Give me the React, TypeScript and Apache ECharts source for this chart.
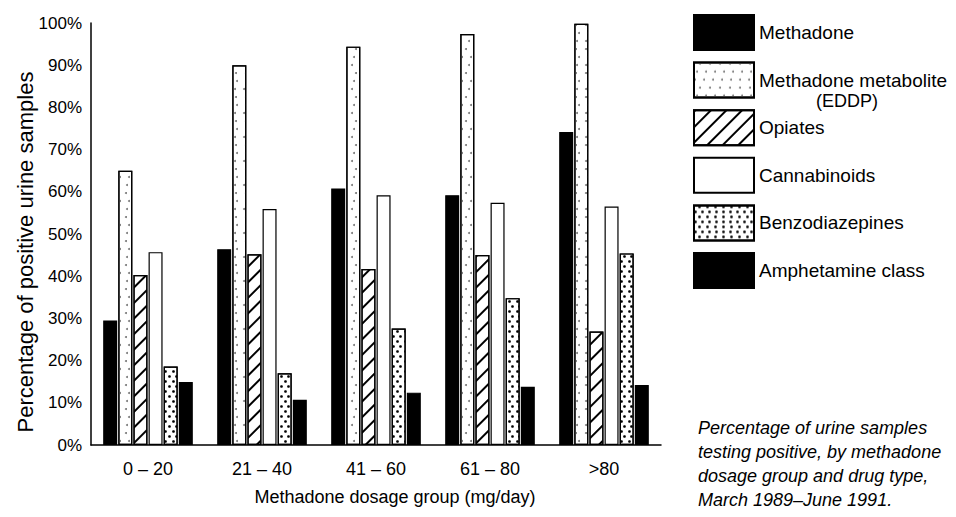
import React, { useEffect, useRef } from 'react';
import * as echarts from 'echarts';

const categories = ['0 – 20', '21 – 40', '41 – 60', '61 – 80', '>80'];
const seriesNames = ['Methadone', 'Methadone metabolite', 'Opiates', 'Cannabinoids', 'Benzodiazepines', 'Amphetamine class'];
const methadone = [29.5, 46.4, 60.8, 59.2, 74.2];
const eddp = [65.0, 90.0, 94.4, 97.4, 99.8];
const opiates = [40.3, 45.2, 41.7, 45.0, 26.9];
const cannabinoids = [45.7, 55.9, 59.2, 57.4, 56.5];
const benzodiazepines = [18.6, 17.0, 27.6, 34.8, 45.4];
const amphetamine = [14.9, 10.7, 12.4, 13.8, 14.2];
const captionLines = [
  'Percentage of urine samples',
  'testing positive, by methadone',
  'dosage group and drug type,',
  'March 1989–June 1991.',
];

const FONT = '"Liberation Sans", Arial, Helvetica, sans-serif';

export default function App() {
  const ref = useRef<HTMLDivElement>(null);
  useEffect(() => {
    document.body.style.margin = '0';
    const chart = echarts.init(ref.current!, null, { renderer: 'svg' });
    const border = { borderColor: '#000', borderWidth: 1.2 };
    const styles: any[] = [
      { color: '#000', ...border },
      {
        color: '#fff', ...border,
        decal: { symbol: 'circle', symbolSize: 1, color: '#777', backgroundColor: '#fff', dashArrayX: [[1.5, 7], [0, 4.5, 1.5, 2.5], [0, 2, 1.5, 5]], dashArrayY: [1.5, 6] },
      },
      {
        color: '#fff', ...border,
        decal: { symbol: 'rect', symbolSize: 1, color: '#000', backgroundColor: '#fff', dashArrayX: [1, 0], dashArrayY: [1.4, 8.5], rotation: -Math.PI / 4 },
      },
      { color: '#fff', ...border },
      {
        color: '#fff', ...border,
        decal: { symbol: 'circle', symbolSize: 0.9, color: '#000', backgroundColor: '#fff', dashArrayX: [[3, 4], [0, 3.5, 3, 0.5]], dashArrayY: [3, 1.5] },
      },
      { color: '#000', ...border },
    ];
    const data = [methadone, eddp, opiates, cannabinoids, benzodiazepines, amphetamine];
    chart.setOption({
      animation: false,
      textStyle: { fontFamily: FONT, color: '#000' },
      grid: { left: 91, right: 295, top: 23, bottom: 72 },
      legend: {
        orient: 'vertical',
        left: 693,
        top: 14,
        padding: 0,
        icon: 'rect',
        itemWidth: 60,
        itemHeight: 35,
        itemGap: 10.6,
        selectedMode: false,
        data: seriesNames,
        textStyle: { fontSize: 19, color: '#000', fontFamily: FONT },
      },
      xAxis: {
        type: 'category',
        data: categories,
        axisLine: { lineStyle: { color: '#000', width: 1.5 } },
        axisTick: { show: false },
        axisLabel: { fontSize: 18, color: '#000', margin: 15, fontFamily: FONT },
      },
      yAxis: {
        type: 'value',
        min: 0,
        max: 100,
        interval: 10,
        axisLine: { show: true, lineStyle: { color: '#000', width: 1.5 } },
        axisTick: { show: false },
        splitLine: { show: false },
        axisLabel: { fontSize: 17, color: '#000', margin: 9, formatter: '{value}%', fontFamily: FONT },
      },
      series: seriesNames.map((name, i) => ({
        name,
        type: 'bar',
        data: data[i],
        barWidth: 14,
        barGap: '8%',
        itemStyle: styles[i],
      })),
      graphic: [
        {
          type: 'text', x: 25, y: 252, rotation: Math.PI / 2,
          style: { text: 'Percentage of positive urine samples', font: `22px ${FONT}`, fill: '#000', textAlign: 'center', textVerticalAlign: 'middle' },
        },
        {
          type: 'text', x: 395, y: 497,
          style: { text: 'Methadone dosage group (mg/day)', font: `18px ${FONT}`, fill: '#000', textAlign: 'center', textVerticalAlign: 'middle' },
        },
        {
          type: 'text', x: 847, y: 101,
          style: { text: '(EDDP)', font: `18px ${FONT}`, fill: '#000', textAlign: 'center', textVerticalAlign: 'middle' },
        },
        ...captionLines.map((t, i) => ({
          type: 'text', x: 698, y: 428 + i * 24,
          style: { text: t, font: `italic 18px ${FONT}`, fill: '#000', textAlign: 'left', textVerticalAlign: 'middle' },
        })),
      ],
    });
    return () => chart.dispose();
  }, []);
  return <div ref={ref} style={{ width: 956, height: 517 }} />;
}
